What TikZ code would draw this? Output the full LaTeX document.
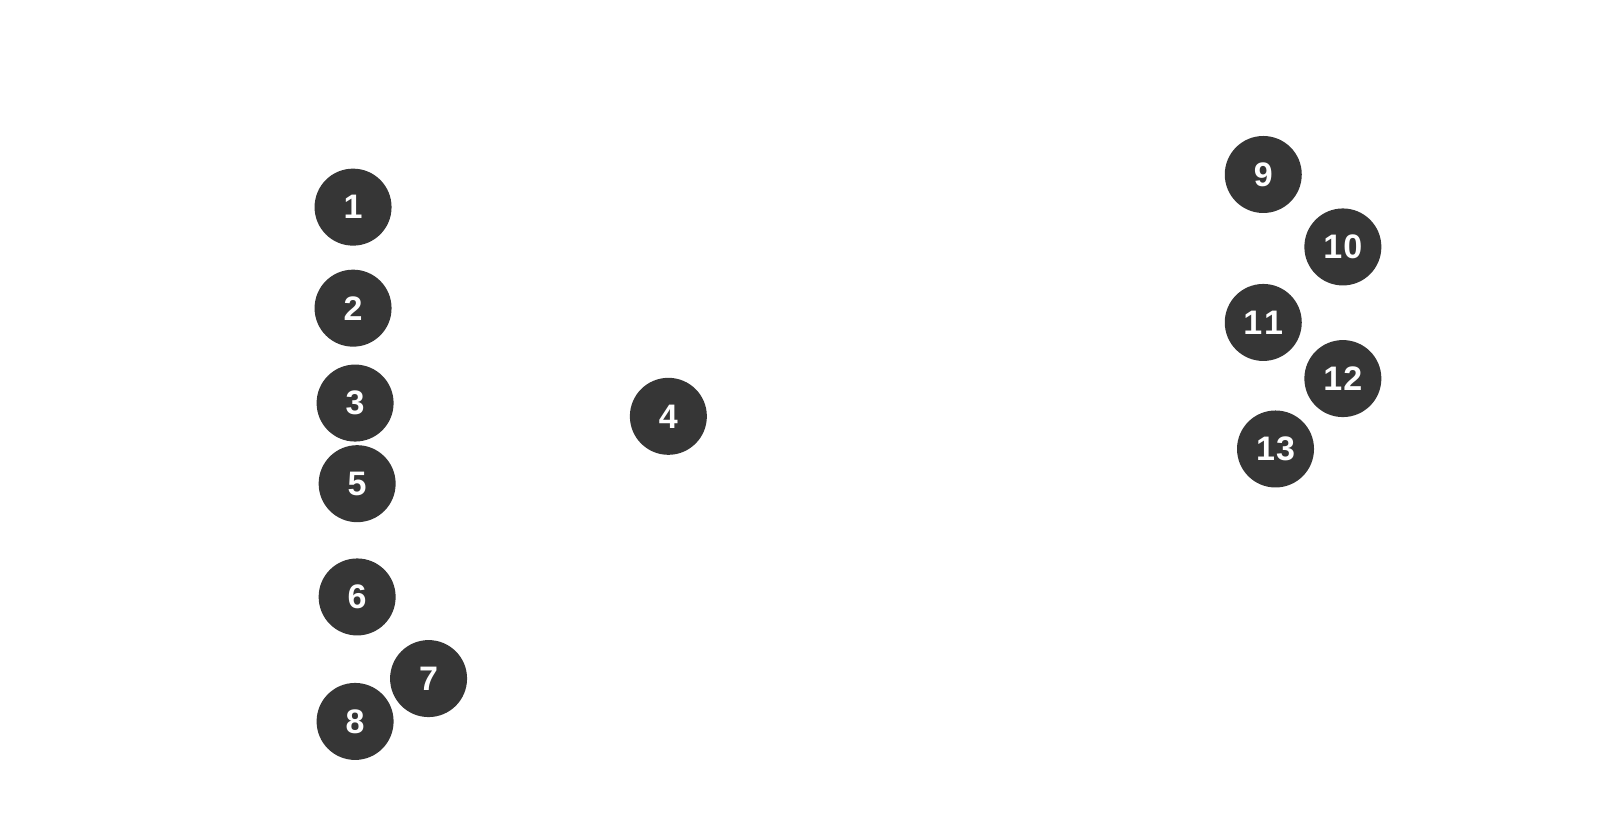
\documentclass[tikz,border=0pt]{standalone}
\usepackage{fontspec}
\setmainfont{Liberation Sans}
\definecolor{disc}{HTML}{363636}
\begin{document}
\begin{tikzpicture}[x=1.0204pt,y=-1.0204pt,
  num/.style={circle,fill=disc,minimum size=77pt,inner sep=0pt,text=white,font=\fontsize{34}{34}\selectfont\bfseries}]
\useasboundingbox (0,0) rectangle (1568,813.4);
\node[num] (n1) at (346,203) {1};
\node[num] (n2) at (346,302) {2};
\node[num] (n3) at (348,395) {3};
\node[num] (n4) at (655,408) {4};
\node[num] (n5) at (350,474) {5};
\node[num] (n6) at (350,585) {6};
\node[num] (n7) at (420,665) {7};
\node[num] (n8) at (348,707) {8};
\node[num] (n9) at (1238,171) {9};
\node[num] (n10) at (1316,242) {1\kern1pt0};
\node[num] (n11) at (1238,316) {1\kern2pt1};
\node[num] (n12) at (1316,371) {1\kern1pt2};
\node[num] (n13) at (1250,440) {1\kern1pt3};
\end{tikzpicture}
\end{document}
